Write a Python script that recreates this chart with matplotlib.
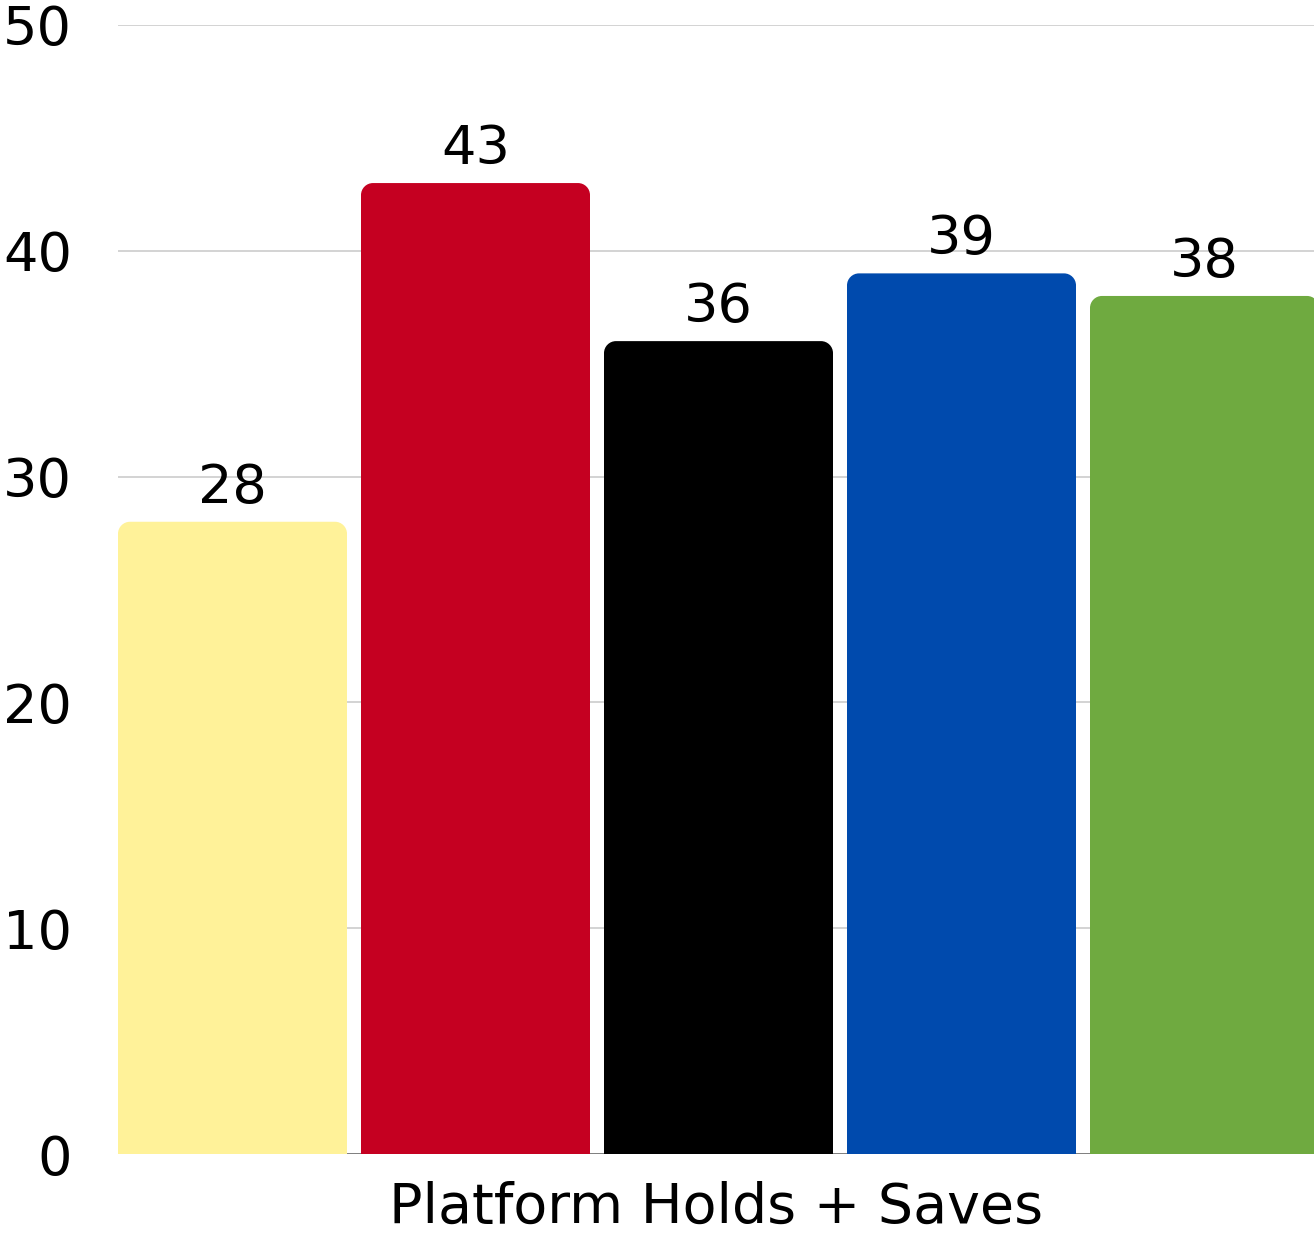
import matplotlib
matplotlib.use("Agg")
import matplotlib.pyplot as plt
from matplotlib.path import Path
from matplotlib.patches import PathPatch

series = ["Series 1", "Series 2", "Series 3", "Series 4", "Series 5"]
values = [28, 43, 36, 39, 38]
colors = ["#FFF299", "#C50021", "#000000", "#004AAD", "#6FAA40"]
xlabel = "Platform Holds + Saves"
yticks = [0, 10, 20, 30, 40, 50]

plt.rcParams['font.family'] = ['DejaVu Sans']

W, H = 1314, 1236
fig = plt.figure(figsize=(W / 100, H / 100), dpi=100)
ax_l, ax_r, ax_b, ax_t = 118 / W, 1.0, 82 / H, 1211 / H
ax = fig.add_axes([ax_l, ax_b, ax_r - ax_l, ax_t - ax_b])

bw = 229 / 243
xs = list(range(len(values)))
bars = ax.bar(xs, values, width=bw, color=colors, zorder=2)

x0 = -bw / 2
xspan = 1196 / 243
ax.set_xlim(x0, x0 + xspan)
ax.set_ylim(0, 50)

# rounded top corners
px_per_x = (ax_r - ax_l) * W / xspan
px_per_y = (ax_t - ax_b) * H / 50
r = 12
rx, ry = r / px_per_x, r / px_per_y
k = 0.5523
for b in bars:
    bx, bwid, bh = b.get_x(), b.get_width(), b.get_height()
    b.set_visible(False)
    X0, X1 = bx, bx + bwid
    verts = [(X0, 0), (X0, bh - ry),
             (X0, bh - ry + k * ry), (X0 + rx - k * rx, bh), (X0 + rx, bh),
             (X1 - rx, bh),
             (X1 - rx + k * rx, bh), (X1, bh - ry + k * ry), (X1, bh - ry),
             (X1, 0), (X0, 0)]
    codes = [Path.MOVETO, Path.LINETO,
             Path.CURVE4, Path.CURVE4, Path.CURVE4,
             Path.LINETO,
             Path.CURVE4, Path.CURVE4, Path.CURVE4,
             Path.LINETO, Path.CLOSEPOLY]
    ax.add_patch(PathPatch(Path(verts, codes), facecolor=b.get_facecolor(),
                           edgecolor='none', zorder=2))
    ax.annotate(f"{int(bh)}", (bx + bwid / 2, bh), xytext=(0, 13.7),
                textcoords='offset points', ha='center', va='baseline',
                fontsize=39, color='black', zorder=3)

for s in ax.spines.values():
    s.set_visible(False)
ax.axhline(0, color='#777777', lw=2, zorder=1)
ax.set_yticks(yticks)
ax.set_yticklabels([str(t) for t in yticks])
ax.tick_params(axis='y', length=0, pad=33, labelsize=39, labelcolor='black')
ax.set_xticks([])
ax.grid(axis='y', color='#CCCCCC', lw=1.2, zorder=0)
ax.set_axisbelow(True)

fig.text((ax_l + ax_r) / 2, 1 / H, xlabel, ha='center', va='bottom',
         fontsize=40, color='black')

fig.savefig("out.png", dpi=100, facecolor='white')
